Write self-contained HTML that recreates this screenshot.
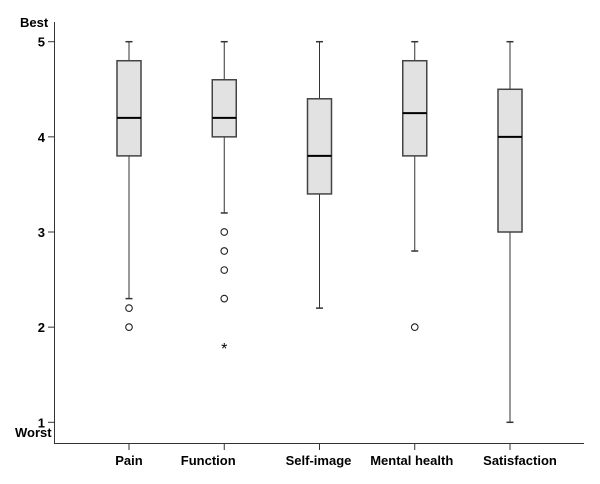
<!DOCTYPE html>
<html><head><meta charset="utf-8"><style>
html,body{margin:0;padding:0;background:#fff;}
svg{display:block;font-family:"Liberation Sans",Arial,sans-serif;}
</style></head><body>
<svg id="chart" width="600" height="484" viewBox="0 0 600 484" xmlns="http://www.w3.org/2000/svg"></svg>
<script>
const categories = ["Pain","Function","Self-image","Mental health","Satisfaction"];
const whiskerLow = [2.3, 3.2, 2.2, 2.8, 1.0];
const q1 = [3.8, 4.0, 3.4, 3.8, 3.0];
const medians = [4.2, 4.2, 3.8, 4.25, 4.0];
const q3 = [4.8, 4.6, 4.4, 4.8, 4.5];
const whiskerHigh = [5, 5, 5, 5, 5];
const outliers = [[2.2, 2.0], [3.0, 2.8, 2.6, 2.3], [], [2.0], []];
const extremes = [[], [1.8], [], [], []];
const yTicks = [1, 2, 3, 4, 5];
const labelOffsets = [0, -16, -1, -3, 10];

const svg = document.getElementById('chart');
const NS = 'http://www.w3.org/2000/svg';
const y = v => 422.3 - (v - 1) * 95.15;
const x = i => 129 + i * 95.25;
function mk(tag, attrs, parent) {
  const e = document.createElementNS(NS, tag);
  for (const k in attrs) e.setAttribute(k, attrs[k]);
  (parent || svg).appendChild(e);
  return e;
}
const stroke = '#333';
let a = mk('line', {x1: 54.5, y1: 22, x2: 54.5, y2: 443.5, stroke: stroke, 'stroke-width': 1});


a = mk('line', {x1: 54, y1: 443.5, x2: 584, y2: 443.5, stroke: stroke, 'stroke-width': 1});


yTicks.forEach(t => {
  const tk = mk('line', {x1: 48, y1: y(t), x2: 54, y2: y(t), stroke: stroke});
  
  
  const tl = mk('text', {x: 45, y: y(t) + 5, 'text-anchor': 'end', 'font-size': 13, 'font-weight': 'bold'});
  tl.textContent = t;
  
  
});
let t = mk('text', {x: 20, y: 27, 'font-size': 13, 'font-weight': 'bold'});
t.textContent = 'Best';


t = mk('text', {x: 15, y: 437, 'font-size': 13, 'font-weight': 'bold'});
t.textContent = 'Worst';



categories.forEach((c, i) => {
  const cx = x(i);
  const g = mk('g', {});
  
  
  mk('line', {x1: cx, y1: y(whiskerHigh[i]), x2: cx, y2: y(q3[i]), stroke: stroke}, g);
  mk('line', {x1: cx, y1: y(q1[i]), x2: cx, y2: y(whiskerLow[i]), stroke: stroke}, g);
  mk('line', {x1: cx - 3.5, y1: y(whiskerHigh[i]), x2: cx + 3.5, y2: y(whiskerHigh[i]), stroke: stroke, 'stroke-width': 1.5}, g);
  mk('line', {x1: cx - 3.5, y1: y(whiskerLow[i]), x2: cx + 3.5, y2: y(whiskerLow[i]), stroke: stroke, 'stroke-width': 1.5}, g);
  mk('rect', {x: cx - 12, y: y(q3[i]), width: 24, height: y(q1[i]) - y(q3[i]), fill: '#e2e2e2', stroke: '#444', 'stroke-width': 1.5}, g);
  mk('line', {x1: cx - 12, y1: y(medians[i]), x2: cx + 12, y2: y(medians[i]), stroke: '#000', 'stroke-width': 2}, g);
  outliers[i].forEach(v => {
    const o = mk('circle', {cx: cx, cy: y(v), r: 3.3, fill: 'none', stroke: '#222', 'stroke-width': 1.1});
    
    
  });
  extremes[i].forEach(v => {
    const e = mk('text', {x: cx, y: y(v) + 8, 'text-anchor': 'middle', 'font-size': 16});
    e.textContent = '*';
    
    
  });
  const xt = mk('line', {x1: cx, y1: 443, x2: cx, y2: 450, stroke: stroke});
  
  
  const xl = mk('text', {x: cx + labelOffsets[i], y: 465, 'text-anchor': 'middle', 'font-size': 13, 'font-weight': 'bold'});
  xl.textContent = c;
  
  
});
</script>
</body></html>
